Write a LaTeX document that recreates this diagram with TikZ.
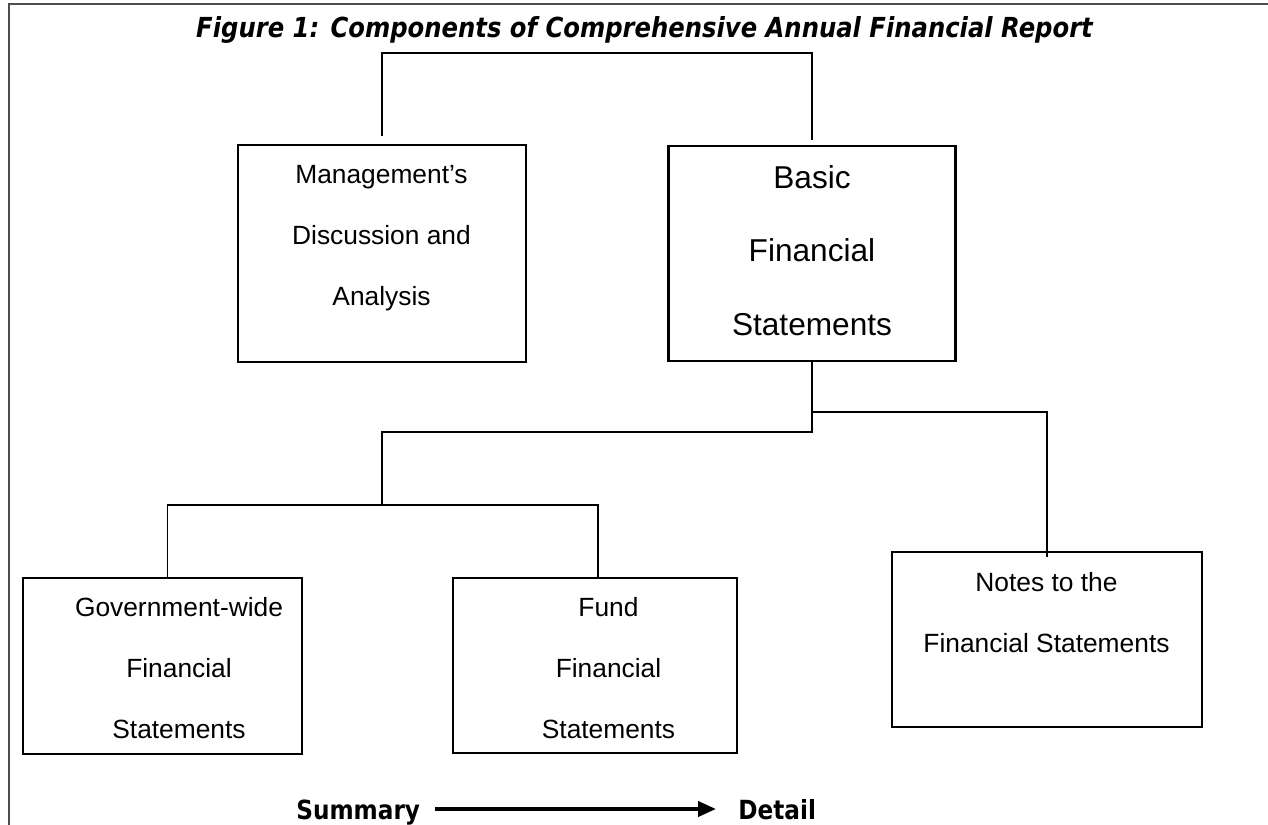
\documentclass[tikz,border=0pt]{standalone}
\usepackage{fontspec}
\setmainfont{Liberation Sans}
\newfontfamily\headfont[FakeStretch=0.88]{DejaVu Sans}
\usetikzlibrary{arrows.meta}

\begin{document}
\begin{tikzpicture}[x=0.02cm,y=0.02cm]
		% Define styles for boxes, texts and lines
		\tikzset{
			box/.style={draw, line width=1.2pt, inner sep=0pt},
			boxtext/.style={align=center, inner sep=0pt, anchor=north, font=\fontsize{15}{34.7}\selectfont},
			bigtext/.style={align=center, inner sep=0pt, anchor=north, font=\fontsize{18}{41.8}\selectfont},
			link/.style={line width=1.1pt},
			heading/.style={font=\headfont\fontsize{15.7}{18}\selectfont\bfseries\itshape, inner sep=0pt, anchor=base},
			scalelabel/.style={font=\headfont\fontsize{15}{17}\selectfont\bfseries, inner sep=0pt, anchor=base west}
		}
		\useasboundingbox (0,0) rectangle (1268,-825);
		
		% Draw the frame
		\draw[black!70, line width=0.8pt] (9,-825) -- (9,-4) -- (1268,-4);
		
		% Title
		\node[heading] (title) at (644.5,-37) {Figure 1: Components of Comprehensive Annual Financial Report};
		
		% Draw the boxes
		\node[box, minimum width=5.76cm, minimum height=4.34cm] (mda) at (382,-253.5) {};
		\node[box, minimum width=5.74cm, minimum height=4.30cm] (bfs) at (812,-253.5) {};
		\node[box, minimum width=5.58cm, minimum height=3.52cm] (gwfs) at (162.5,-666) {};
		\node[box, minimum width=5.68cm, minimum height=3.50cm] (fundfs) at (595,-665.5) {};
		\node[box, minimum width=6.20cm, minimum height=3.50cm] (notes) at (1047,-639.5) {};
		
		% Add texts in the boxes
		\node[boxtext] (mdatext) at (381.5,-165) {Management’s\\Discussion and\\Analysis};
		\node[bigtext] (bfstext) at (812,-165) {Basic\\Financial\\Statements};
		\node[boxtext] (gwtext) at (179,-597) {Government-wide\\Financial\\Statements};
		\node[boxtext] (fundtext) at (608.5,-597) {Fund\\Financial\\Statements};
		\node[boxtext] (notestext) at (1046.5,-572) {Notes to the\\Financial Statements};
		
		% Draw the connecting lines
		\coordinate (fork1) at (bfs.south |- 0,-432);
		\coordinate (fork2) at (382,-505);
		\draw[link] ([yshift=0.16cm]mda.north) -- ++(0,83) -| ([yshift=0.1cm]bfs.north);
		\draw[link] (bfs.south) -- (fork1) -| (fork2);
		\draw[link] (fork2) -| ([xshift=0.1cm]gwfs.north);
		\draw[link] (fork2) -| ([xshift=0.06cm]fundfs.north);
		\draw[link] (bfs.south |- 0,-412) -| ([yshift=-0.12cm]notes.north);
		
		% Summary to detail arrow
		\node[scalelabel] (summary) at (296,-819) {Summary};
		\node[scalelabel] (detail) at (738,-819) {Detail};
		\coordinate (arrowy) at (0,-809);
		\draw[line width=2.2pt, -{Triangle[length=0.36cm,width=0.3cm]}] ([xshift=0.3cm]summary.east |- arrowy) -- ([xshift=-0.44cm]detail.west |- arrowy);
	\end{tikzpicture}
\end{document}
